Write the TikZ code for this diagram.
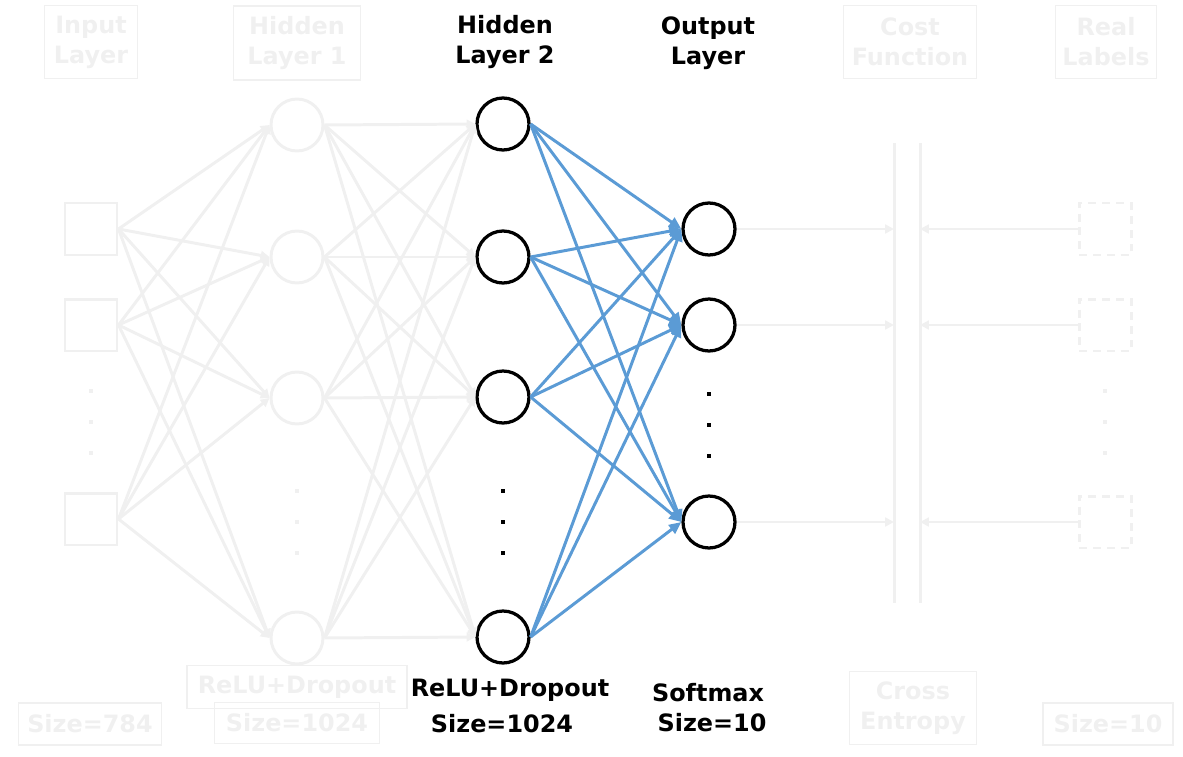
\documentclass[tikz,border=0pt]{standalone}
\usepackage{fontspec}
\setmainfont{DejaVu Sans}
\usetikzlibrary{arrows.meta}
\definecolor{fadegray}{RGB}{240,240,240}
\definecolor{edgeblue}{RGB}{91,155,213}

\begin{document}
\begin{tikzpicture}[x=0.02cm, y=-0.02cm,
  every node/.style = {font=\fontsize{13.6}{17}\selectfont\bfseries, align=center},
  neuron/.style = {circle, draw=black, line width=1.85pt, fill=white, minimum size=1.04cm, inner sep=0pt},
  ghost/.style = {circle, draw=fadegray, line width=1.7pt, minimum size=1.04cm, inner sep=0pt},
  pixel/.style = {rectangle, draw=fadegray, line width=1.7pt, minimum size=1.04cm, inner sep=0pt},
  target/.style = {rectangle, draw=fadegray, line width=1.7pt, dash pattern=on 4.5pt off 3.4pt, minimum size=1.04cm, inner sep=0pt},
  tag/.style = {draw=fadegray, text=fadegray, line width=0.6pt, inner sep=0pt},
  vdot/.style = {rectangle, fill=#1, minimum size=2.8pt, inner sep=0pt},
  vdot/.default = black,
  wire/.style = {draw=fadegray, line width=1.7pt, -{Triangle[length=5pt,width=5pt]}},
  link/.style = {draw=edgeblue, line width=1.7pt, -{Triangle[length=7pt,width=6pt]}},
  ]
  \useasboundingbox (0,0) rectangle (1183,757);

  \node[tag, minimum width=1.86cm, minimum height=1.46cm] (tin) at (91,42) {Input\\Layer};
  \node[tag, minimum width=2.54cm, minimum height=1.48cm] (tha) at (297,43) {Hidden\\Layer 1};
  \node (thb) at (505,42) {Hidden\\Layer 2};
  \node (tout) at (708,43) {Output\\Layer};
  \node[tag, minimum width=2.66cm, minimum height=1.46cm] (tcost) at (910,42) {Cost\\Function};
  \node[tag, minimum width=2.02cm, minimum height=1.46cm] (tlab) at (1106,42) {Real\\Labels};

  \node[pixel] (in1) at (91,229) {};
  \node[pixel] (in2) at (91,325) {};
  \node[pixel] (in3) at (91,519) {};
  \foreach \y [count=\k] in {391,422,453} \node[vdot=fadegray] (ind\k) at (91,\y) {};

  \node[ghost] (ha1) at (297,125) {};
  \node[ghost] (ha2) at (297,257) {};
  \node[ghost] (ha3) at (297,398) {};
  \node[ghost] (ha4) at (297,638) {};
  \foreach \y [count=\k] in {491,522,553} \node[vdot=fadegray] (had\k) at (297,\y) {};

  \node[neuron] (hb1) at (503,124) {};
  \node[neuron] (hb2) at (503,257) {};
  \node[neuron] (hb3) at (503,397) {};
  \node[neuron] (hb4) at (503,637) {};
  \foreach \y [count=\k] in {491,522,553} \node[vdot] (hbd\k) at (503,\y) {};

  \node[neuron] (out1) at (709,229) {};
  \node[neuron] (out2) at (709,325) {};
  \node[neuron] (out3) at (709,522) {};
  \foreach \y [count=\k] in {394,425,456} \node[vdot] (outd\k) at (709,\y) {};

  \node[target] (lab1) at (1105,229) {};
  \node[target] (lab2) at (1105,325) {};
  \node[target] (lab3) at (1105,522) {};
  \foreach \y [count=\k] in {391,422,453} \node[vdot=fadegray] (labd\k) at (1105,\y) {};

  \coordinate (costL) at (894,143);
  \coordinate (costLend) at (894,603);
  \coordinate (costR) at (920,143);
  \coordinate (costRend) at (920,603);
  \draw[fadegray, line width=1.7pt] (costL) -- (costLend);
  \draw[fadegray, line width=1.7pt] (costR) -- (costRend);

  \foreach \i in {1,2,3} \foreach \j in {1,2,3,4} \draw[wire] (in\i.east) -- (ha\j.west);
  \foreach \i in {1,2,3,4} \foreach \j in {1,2,3,4} \draw[wire] (ha\i.east) -- (hb\j.west);
  \foreach \i in {1,2,3,4} \foreach \j in {1,2,3} \draw[link] (hb\i.east) -- (out\j.west);
  \foreach \j in {1,2,3} {
    \draw[wire] (out\j.east) -- (out\j.east -| costL);
    \draw[wire] (lab\j.west) -- (lab\j.west -| costR);
  }

  \node[tag, minimum width=2.86cm, minimum height=0.84cm] (sin) at (90,724) {Size=784};
  \node[tag, minimum width=4.4cm, minimum height=0.86cm] (acta) at (297,687) {ReLU+Dropout};
  \node[tag, minimum width=3.3cm, minimum height=0.82cm] (sha) at (297,723) {Size=1024};
  \node (actb) at (510,690) {ReLU+Dropout};
  \node (shb) at (502,724) {Size=1024};
  \node (actout) at (708,693) {Softmax};
  \node (sout) at (712,723) {Size=10};
  \node[tag, minimum width=2.54cm, minimum height=1.46cm] (tloss) at (913,708) {Cross\\Entropy};
  \node[tag, minimum width=2.6cm, minimum height=0.84cm] (slab) at (1108,724) {Size=10};
\end{tikzpicture}
\end{document}
